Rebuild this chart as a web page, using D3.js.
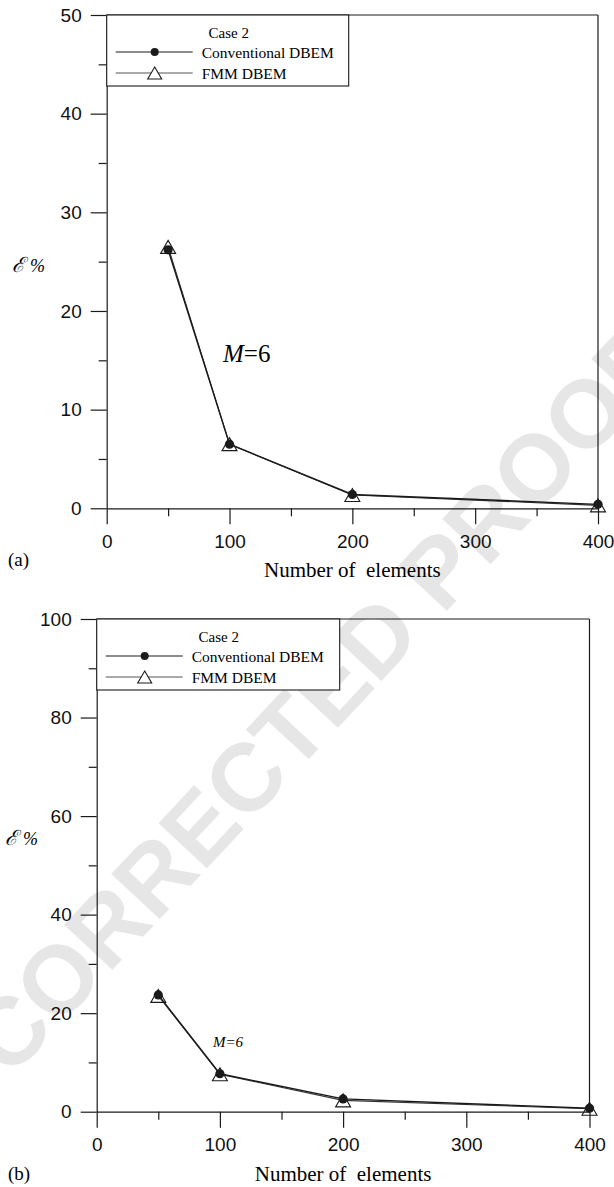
<!DOCTYPE html>
<html>
<head>
<meta charset="utf-8">
<script src="https://cdn.jsdelivr.net/npm/d3@7"></script>
<style>
  html, body { margin: 0; padding: 0; background: #fff; }
  svg { display: block; }
</style>
</head>
<body>
<svg id="fig" width="614" height="1187"></svg>
<script>
// Number of boundary elements used in each run
const elements = [50, 100, 200, 400];

// Panel (a): relative error (%) for Case 2
const convA = [26.2, 6.5, 1.4, 0.4];
const fmmA  = [26.5, 6.5, 1.35, 0.3];

// Panel (b): relative error (%) for Case 2
const convB = [23.7, 7.7, 2.6, 0.7];
const fmmB  = [23.5, 7.6, 2.3, 0.6];

// Tick values
const xTicks  = [0, 100, 200, 300, 400];
const xMinor  = [50, 150, 250, 350];
const yTicksA = [0, 10, 20, 30, 40, 50];
const yMinorA = [5, 15, 25, 35, 45];
const yTicksB = [0, 20, 40, 60, 80, 100];
const yMinorB = [10, 30, 50, 70, 90];

const legendTitle  = "Case 2";
const legendLabels = ["Conventional DBEM", "FMM DBEM"];
const panelTags    = ["(a)", "(b)"];
const xTitle       = "Number of  elements";

const svg = d3.select("#fig");
const INK = "#1a1a1a";
const SERIF = "'Liberation Serif','Times New Roman',Times,serif";
const SANS  = "'Liberation Sans',Arial,Helvetica,sans-serif";

// Light diagonal proof stamp behind the plots
svg.append("text")
  .attr("transform", "translate(318,700) rotate(-47)")
  .attr("text-anchor", "middle")
  .attr("dominant-baseline", "central")
  .style("font-family", SANS)
  .style("font-weight", "bold")
  .style("font-size", "96px")
  .style("fill", "#e6e6e6")
  .text("CORRECTED PROOF");

function trianglePath(cx, cy, w, h) {
  // upward triangle centred on its bounding box
  const top = cy - h / 2, bot = cy + h / 2;
  return `M${cx},${top}L${cx + w / 2},${bot}L${cx - w / 2},${bot}Z`;
}

function drawPanel(p) {
  const g = svg.append("g");
  const x = d3.scaleLinear().domain([0, 400]).range([p.left, p.right]);
  const y = d3.scaleLinear().domain([0, p.yMax]).range([p.bottom, p.top]);

  // frame: top and right edges
  g.append("line").attr("x1", p.left).attr("x2", p.right).attr("y1", p.top).attr("y2", p.top)
    .attr("stroke", INK).attr("stroke-width", 1.2);
  g.append("line").attr("x1", p.right).attr("x2", p.right).attr("y1", p.top).attr("y2", p.bottom)
    .attr("stroke", INK).attr("stroke-width", 1.2);

  // y axis: major ticks with labels, minor ticks
  g.append("g").attr("transform", `translate(${p.left},0)`)
    .call(d3.axisLeft(y).tickValues(p.yTicks).tickSize(16).tickSizeOuter(0).tickPadding(9));
  g.append("g").attr("transform", `translate(${p.left},0)`)
    .call(d3.axisLeft(y).tickValues(p.yMinor).tickSize(8).tickFormat(""))
    .call(a => a.select(".domain").remove());

  // x axis
  g.append("g").attr("transform", `translate(0,${p.bottom})`)
    .call(d3.axisBottom(x).tickValues(xTicks).tickSize(16).tickSizeOuter(0).tickPadding(10));
  g.append("g").attr("transform", `translate(0,${p.bottom})`)
    .call(d3.axisBottom(x).tickValues(xMinor).tickSize(8).tickFormat(""))
    .call(a => a.select(".domain").remove());

  g.selectAll(".domain, .tick line").attr("stroke", INK).attr("stroke-width", 1.2);
  g.selectAll(".tick text").style("font-family", SANS).style("font-size", "19px").attr("fill", "#111");

  // series lines
  const line = d3.line().x((d, i) => x(elements[i])).y(d => y(d));
  g.append("path").datum(p.fmm).attr("d", line)
    .attr("fill", "none").attr("stroke", "#333").attr("stroke-width", 1.1);
  g.append("path").datum(p.conv).attr("d", line)
    .attr("fill", "none").attr("stroke", INK).attr("stroke-width", 1.4);

  // FMM markers: open triangles
  g.selectAll(".tri").data(p.fmm).enter().append("path")
    .attr("d", (d, i) => trianglePath(x(elements[i]), y(d), 15, 13))
    .attr("fill", "none").attr("stroke", INK).attr("stroke-width", 1.1);
  // Conventional markers: filled dots
  g.selectAll(".dot").data(p.conv).enter().append("circle")
    .attr("cx", (d, i) => x(elements[i])).attr("cy", d => y(d)).attr("r", 4.6)
    .attr("fill", INK);

  // legend box
  const lg = g.append("g");
  lg.append("rect").attr("x", p.left).attr("y", p.top)
    .attr("width", p.legendW).attr("height", p.legendH)
    .attr("fill", "#fff").attr("stroke", INK).attr("stroke-width", 1.1);
  lg.append("text").attr("x", p.left + 122).attr("y", p.top + 23)
    .attr("text-anchor", "middle")
    .style("font-family", SERIF).style("font-size", "15px").text(legendTitle);
  const rows = [p.top + 37, p.top + 58];
  rows.forEach((ry, k) => {
    lg.append("line").attr("x1", p.left + 9).attr("x2", p.left + 86)
      .attr("y1", ry).attr("y2", ry)
      .attr("stroke", k === 0 ? INK : "#555").attr("stroke-width", 1.1);
    if (k === 0) {
      lg.append("circle").attr("cx", p.left + 48).attr("cy", ry).attr("r", 4).attr("fill", INK);
    } else {
      lg.append("path").attr("d", trianglePath(p.left + 48, ry, 14, 12))
        .attr("fill", "#fff").attr("stroke", INK).attr("stroke-width", 1.1);
    }
    lg.append("text").attr("x", p.left + 95).attr("y", ry + 5.5)
      .style("font-family", SERIF).style("font-size", "15.5px").text(legendLabels[k]);
  });

  // y axis title
  const yt = g.append("text").attr("x", p.yLabelX).attr("y", p.yLabelY);
  yt.append("tspan").style("font-family", "'DejaVu Serif',serif").style("font-style", "italic")
    .style("font-size", "21px").text("\u2130");
  yt.append("tspan").attr("dx", 5).style("font-family", SERIF).style("font-style", "italic")
    .style("font-size", "18px").text("%");

  // x axis title
  g.append("text").attr("x", (p.left + p.right) / 2).attr("y", p.bottom + 69)
    .attr("text-anchor", "middle").style("white-space", "pre")
    .style("font-family", SERIF).style("font-size", "21px").text(xTitle);

  // panel tag
  g.append("text").attr("x", 8).attr("y", p.tagY)
    .style("font-family", SERIF).style("font-size", "19px").text(p.tag);

  // M annotation
  const m = g.append("text").attr("x", p.mX).attr("y", p.mY)
    .style("font-family", SERIF).style("font-size", p.mSize + "px");
  m.append("tspan").style("font-style", "italic").text("M");
  m.append("tspan").style("font-style", p.mAllItalic ? "italic" : "normal").text("=6");
}

drawPanel({
  left: 106.7, right: 598, top: 15, bottom: 508.3, yMax: 50,
  yTicks: yTicksA, yMinor: yMinorA, conv: convA, fmm: fmmA,
  legendW: 242, legendH: 71,
  yLabelX: 12, yLabelY: 272, tag: panelTags[0], tagY: 566,
  mX: 223, mY: 362, mSize: 25, mAllItalic: false
});

drawPanel({
  left: 96.7, right: 589.5, top: 619, bottom: 1111.7, yMax: 100,
  yTicks: yTicksB, yMinor: yMinorB, conv: convB, fmm: fmmB,
  legendW: 243, legendH: 71,
  yLabelX: 5, yLabelY: 845, tag: panelTags[1], tagY: 1180,
  mX: 213, mY: 1047, mSize: 15, mAllItalic: true
});
</script>
</body>
</html>
